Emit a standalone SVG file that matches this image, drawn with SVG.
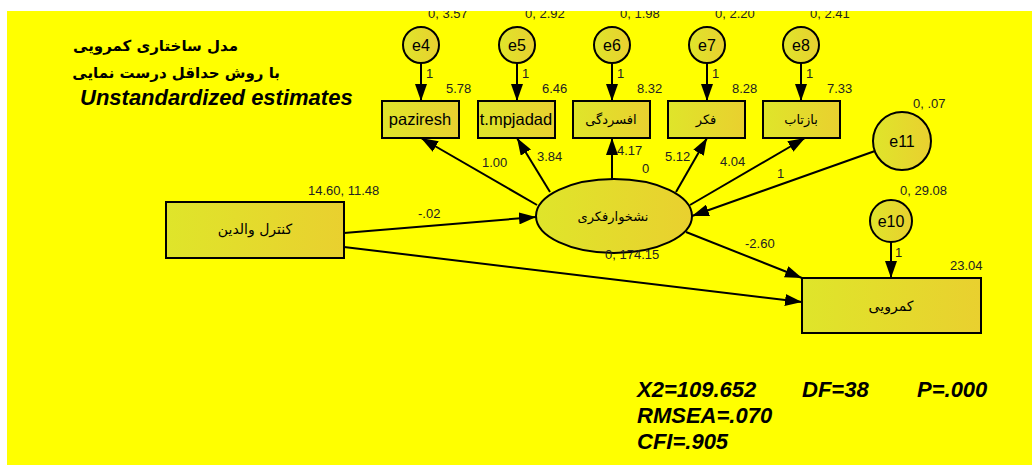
<svg xmlns="http://www.w3.org/2000/svg" width="1032" height="465" viewBox="0 0 1032 465">
<defs>
<linearGradient id="g" x1="0" y1="0" x2="1" y2="0">
<stop offset="0" stop-color="#dfe52a"/>
<stop offset="1" stop-color="#e9d02f"/>
</linearGradient>
<marker id="ah" markerUnits="userSpaceOnUse" markerWidth="17" markerHeight="12" refX="17" refY="6" orient="auto">
<path d="M0,0 L17,6 L0,12 z" fill="#000"/>
</marker>
</defs>
<style>
.n{fill:url(#g);stroke:#000;stroke-width:2}
.c{fill:none;stroke:#000;stroke-width:2;marker-end:url(#ah)}
.l{font-family:"Liberation Sans",Arial,sans-serif;font-size:13px;fill:#222}
.t{font-family:"Liberation Sans",Arial,sans-serif;font-size:16.5px;fill:#000;text-anchor:middle}
.p{font-family:"DejaVu Sans","Noto Sans",sans-serif;font-size:13px;fill:#000;text-anchor:middle}
.e{font-family:"Liberation Sans",Arial,sans-serif;font-size:16px;fill:#000;text-anchor:middle}
.h{font-family:"DejaVu Sans",sans-serif;font-size:15px;font-weight:bold;fill:#000;text-anchor:end}
.s{font-family:"Liberation Sans",Arial,sans-serif;font-size:22px;font-weight:bold;font-style:italic;fill:#000}
</style>
<rect x="0" y="0" width="1032" height="465" fill="#ffff00"/>

<g id="title">
<text class="h" x="238" y="51">مدل ساختاری کمرویی</text>
<text class="h" x="280" y="78">با روش حداقل درست نمایی</text>
<text class="s" x="80" y="105">Unstandardized estimates</text>
</g>

<g id="connectors">
<line class="c" x1="421" y1="63" x2="421" y2="101"/>
<line class="c" x1="517" y1="63" x2="517" y2="101"/>
<line class="c" x1="612" y1="63" x2="612" y2="101"/>
<line class="c" x1="707" y1="63" x2="707" y2="101"/>
<line class="c" x1="801" y1="63" x2="801" y2="101"/>
<line class="c" x1="537" y1="205" x2="421" y2="138"/>
<line class="c" x1="550" y1="192" x2="517" y2="138"/>
<line class="c" x1="612" y1="179" x2="612" y2="138"/>
<line class="c" x1="676" y1="192" x2="707" y2="138"/>
<line class="c" x1="690" y1="205" x2="805" y2="138"/>
<line class="c" x1="875" y1="151" x2="692" y2="216"/>
<line class="c" x1="686" y1="232" x2="802" y2="278"/>
<line class="c" x1="344" y1="233" x2="536" y2="217"/>
<line class="c" x1="344" y1="247" x2="802" y2="302"/>
<line class="c" x1="891" y1="242" x2="891" y2="278"/>
</g>

<g id="e4"><circle class="n" cx="421" cy="45" r="18"/><text class="e" x="421" y="51">e4</text><text class="l" x="428" y="18">0, 3.57</text></g>
<g id="e5"><circle class="n" cx="517" cy="45" r="18"/><text class="e" x="517" y="51">e5</text><text class="l" x="525" y="18">0, 2.92</text></g>
<g id="e6"><circle class="n" cx="612" cy="45" r="18"/><text class="e" x="612" y="51">e6</text><text class="l" x="620" y="18">0, 1.98</text></g>
<g id="e7"><circle class="n" cx="707" cy="45" r="18"/><text class="e" x="707" y="51">e7</text><text class="l" x="715" y="18">0, 2.20</text></g>
<g id="e8"><circle class="n" cx="801" cy="45" r="18"/><text class="e" x="801" y="51">e8</text><text class="l" x="810" y="18">0, 2.41</text></g>

<g id="paziresh"><rect class="n" x="382" y="101" width="77" height="37"/><text class="t" x="420" y="125">paziresh</text><text class="l" x="446" y="93">5.78</text></g>
<g id="tmpjadad"><rect class="n" x="478" y="101" width="77" height="37"/><text class="t" x="516" y="125">t.mpjadad</text><text class="l" x="542" y="93">6.46</text></g>
<g id="afsordegi"><rect class="n" x="573" y="101" width="77" height="37"/><text class="p" x="611" y="124">افسردگی</text><text class="l" x="637" y="93">8.32</text></g>
<g id="fekr"><rect class="n" x="668" y="101" width="77" height="37"/><text class="p" x="706" y="124">فکر</text><text class="l" x="732" y="93">8.28</text></g>
<g id="baztab"><rect class="n" x="763" y="101" width="77" height="37"/><text class="p" x="801" y="124">بازتاب</text><text class="l" x="827" y="93">7.33</text></g>

<g id="e11"><circle class="n" cx="902" cy="141" r="29"/><text class="e" x="902" y="147">e11</text><text class="l" x="913" y="108">0, .07</text></g>
<g id="e10"><circle class="n" cx="891" cy="221" r="21"/><text class="e" x="891" y="227">e10</text><text class="l" x="900" y="195">0, 29.08</text></g>

<g id="nashkhar"><ellipse class="n" cx="614" cy="216" rx="78" ry="37"/><text class="p" x="613" y="221">نشخوارفکری</text><text class="l" x="605" y="259">0, 174.15</text></g>
<g id="kontrol"><rect class="n" x="166" y="202" width="178" height="56"/><text class="p" x="255" y="234" style="font-size:14px">کنترل والدین</text><text class="l" x="308" y="195">14.60, 11.48</text></g>
<g id="kamroyi"><rect class="n" x="802" y="278" width="179" height="55"/><text class="p" x="891" y="311" style="font-size:14px">کمرویی</text><text class="l" x="950" y="270">23.04</text></g>

<g id="labels">
<text class="l" x="426" y="78">1</text>
<text class="l" x="522" y="78">1</text>
<text class="l" x="617" y="78">1</text>
<text class="l" x="712" y="78">1</text>
<text class="l" x="806" y="78">1</text>
<text class="l" x="418" y="218">-.02</text>
<text class="l" x="482" y="167">1.00</text>
<text class="l" x="537" y="161">3.84</text>
<text class="l" x="617" y="155">4.17</text>
<text class="l" x="642" y="173">0</text>
<text class="l" x="665" y="161">5.12</text>
<text class="l" x="720" y="166">4.04</text>
<text class="l" x="777" y="178">1</text>
<text class="l" x="745" y="248">-2.60</text>
<text class="l" x="895" y="257">1</text>
</g>

<g id="fit">
<text class="s" x="637" y="397">X2=109.652</text>
<text class="s" x="802" y="397">DF=38</text>
<text class="s" x="917" y="397">P=.000</text>
<text class="s" x="637" y="423">RMSEA=.070</text>
<text class="s" x="637" y="449">CFI=.905</text>
</g>

<rect x="0" y="0" width="1032" height="11" fill="#fff"/>
<rect x="0" y="0" width="7" height="465" fill="#fff"/>
</svg>
